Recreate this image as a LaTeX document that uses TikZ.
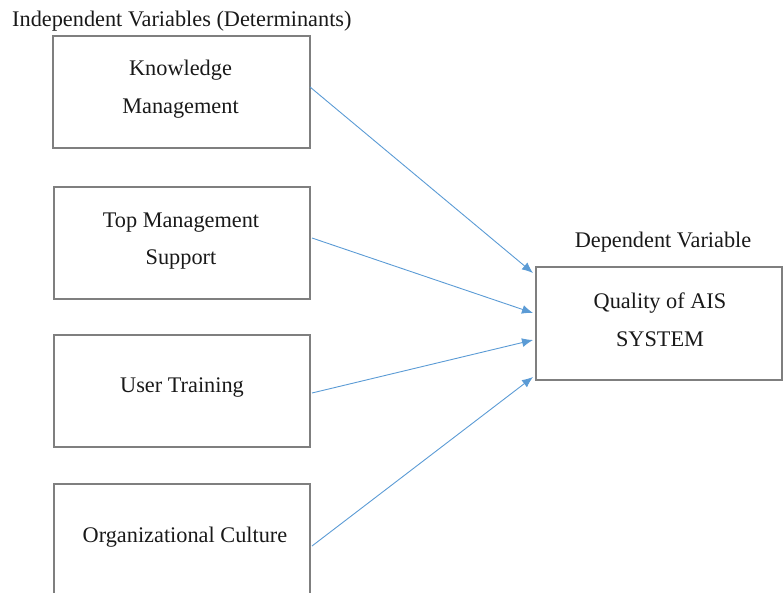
\documentclass[tikz,border=0pt]{standalone}
\usepackage{fontspec}
\setmainfont{Liberation Serif}
\usetikzlibrary{arrows.meta,calc}
\definecolor{boxgray}{HTML}{7F7F7F}
\definecolor{linkblue}{HTML}{5B9BD5}
\begin{document}
\begin{tikzpicture}[x=1pt,y=-1pt,
  box/.style={draw=boxgray, line width=2pt, minimum width=257pt,
    minimum height=112pt, inner sep=0pt, outer sep=0pt, anchor=north west},
  lbl/.style={font=\fontsize{22.3}{37.5}\selectfont, align=center,
    inner sep=0pt, text=black!90},
  link/.style={draw=linkblue, line width=0.9pt,
    -{Latex[length=11pt,width=9pt]}}]
  \clip (0,0) rectangle (783,593);

  % headings
  \node[lbl, anchor=west] (indep) at (12,21) {Independent Variables (Determinants)};
  \node[lbl] (dep) at (663,242) {Dependent Variable};

  % determinant boxes
  \node[box] (km) at (53,36) {};
  \node[box, minimum width=256pt] (tms) at (54,187) {};
  \node[box, minimum width=256pt] (ut) at (54,335) {};
  \node[box, minimum width=256pt, minimum height=113pt] (oc) at (54,484) {};
  % outcome box
  \node[box, minimum width=246pt, minimum height=113pt] (ais) at (536,267) {};

  % box texts
  \node[lbl] (kmt) at ($(km.north)+(-1,53)$) {Knowledge\\Management};
  \node[lbl] (tmst) at ($(tms.north)+(-1,54)$) {Top Management\\Support};
  \node[lbl] (utt) at ($(ut.north)+(0,53)$) {User Training};
  \node[lbl] (oct) at ($(oc.north)+(3,53)$) {Organizational Culture};
  \node[lbl] (aist) at ($(ais.north)+(1,53)$) {Quality of AIS\\SYSTEM};

  % connector end points
  \coordinate (s1) at ($(km.north east)+(0,51)$);
  \coordinate (s2) at ($(tms.north east)+(2,51)$);
  \coordinate (s3) at ($(ut.north east)+(2,58)$);
  \coordinate (s4) at ($(oc.north east)+(2,62)$);
  \coordinate (e1) at ($(ais.north west)+(-3,6)$);
  \coordinate (e2) at ($(ais.north west)+(-3,46)$);
  \coordinate (e3) at ($(ais.north west)+(-3,73)$);
  \coordinate (e4) at ($(ais.north west)+(-3,110)$);

  \draw[link] (s1) -- (e1);
  \draw[link] (s2) -- (e2);
  \draw[link] (s3) -- (e3);
  \draw[link] (s4) -- (e4);
\end{tikzpicture}
\end{document}
